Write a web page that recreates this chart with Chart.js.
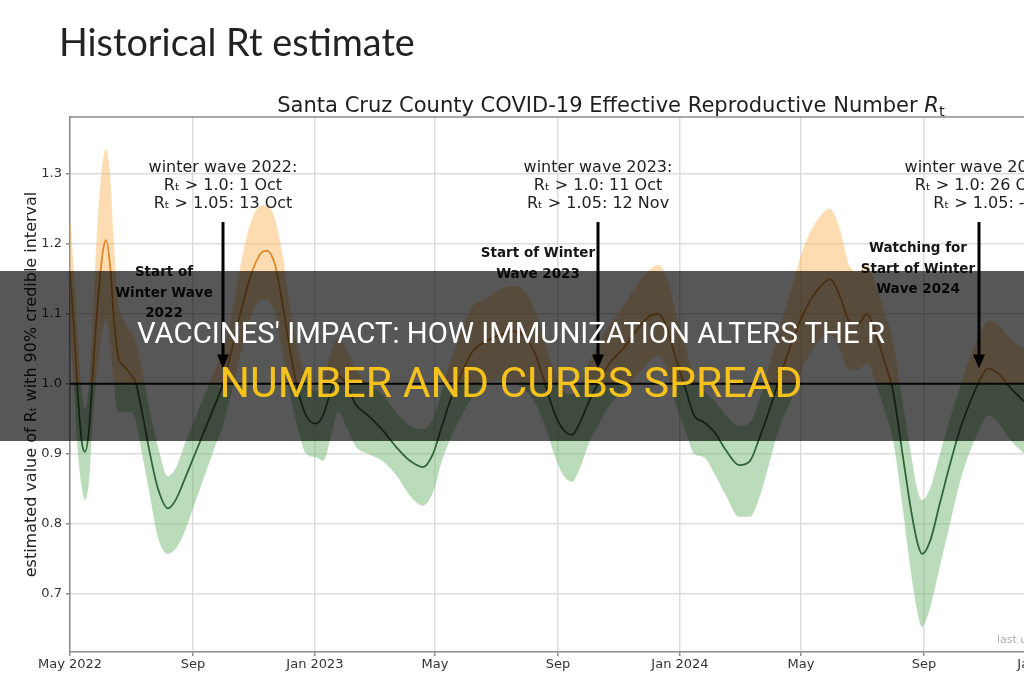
<!DOCTYPE html>
<html>
<head>
<meta charset="utf-8">
<script src="https://cdn.jsdelivr.net/npm/chart.js@4/dist/chart.umd.min.js"></script>
<style>
html,body{margin:0;padding:0;width:1024px;height:680px;overflow:hidden;background:#fff;}
#wrap{position:relative;width:1024px;height:680px;overflow:hidden;background:#fff;}
#c{position:absolute;left:0;top:0;}
.txt{position:absolute;left:0;top:0;white-space:nowrap;line-height:1;}
#heading{font-family:Lato,"Open Sans",sans-serif;font-size:35px;color:#222;}
#ctitle{font-family:"DejaVu Sans",sans-serif;font-size:21px;color:#1e1e1e;}
#ctitle sub{font-size:0.7em;vertical-align:baseline;position:relative;top:0.3em;line-height:0;}
#lastupd{font-family:"DejaVu Sans",sans-serif;font-size:11px;color:#b0b0b0;}
#banner{position:absolute;left:0;top:271px;width:1024px;height:170px;background:rgba(0,0,0,0.66);}
#b1{font-family:Roboto,"Liberation Sans",sans-serif;font-size:27px;color:#ffffff;z-index:3;}
#b2{font-family:Roboto,"Liberation Sans",sans-serif;font-size:40px;color:#f5c21b;z-index:3;}
</style>
</head>
<body>
<div id="wrap">
  <canvas id="c" width="1110" height="680"></canvas>
  <div id="heading" class="txt">Historical Rt estimate</div>
  <div id="ctitle" class="txt">Santa Cruz County COVID-19 Effective Reproductive Number <i>R</i><sub>t</sub></div>
  <div id="lastupd" class="txt">last updated</div>
  <div id="banner"></div>
  <div id="b1" class="txt">VACCINES' IMPACT: HOW IMMUNIZATION ALTERS THE R</div>
  <div id="b2" class="txt">NUMBER AND CURBS SPREAD</div>
</div>
<script>
// ---------------- data ----------------
const xTickDays   = [0, 123, 245, 365, 488, 610, 731, 854, 976];   // days since 1 May 2022
const xTickLabels = ['May 2022', 'Sep', 'Jan 2023', 'May', 'Sep', 'Jan 2024', 'May', 'Sep', 'Jan 2025'];
const yTicks      = [0.7, 0.8, 0.9, 1.0, 1.1, 1.2, 1.3];

const days = [0,4,8,12,15,19,23,28,33,36,40,44,48,54,60,66,72,80,88,98,106,115,125,135,145,153,162,172,182,192,197,205,213,221,228,236,246,253,262,268,276,286,298,312,326,340,353,363,372,380,390,402,415,430,445,456,466,475,484,493,502,510,519,528,540,553,566,578,588,597,606,615,624,634,645,656,669,680,690,700,710,722,735,748,760,770,779,788,797,806,815,823,832,841,848,852,860,870,880,890,899,908,918,928,940,954,970,990,1010,1040];
const rtMedian = [1.16,1.08,0.98,0.915,0.903,0.935,1.02,1.12,1.19,1.205,1.17,1.09,1.04,1.025,1.015,1.0,0.96,0.9,0.85,0.822,0.835,0.865,0.9,0.935,0.97,1.0,1.05,1.11,1.16,1.188,1.19,1.17,1.11,1.04,0.99,0.955,0.943,0.955,0.995,1.012,1.0,0.97,0.955,0.935,0.91,0.89,0.881,0.9,0.94,0.975,1.01,1.045,1.06,1.07,1.075,1.065,1.04,1.0,0.96,0.935,0.927,0.945,0.975,1.0,1.03,1.05,1.075,1.095,1.1,1.08,1.035,0.995,0.955,0.945,0.93,0.905,0.884,0.89,0.925,0.965,1.01,1.06,1.105,1.135,1.149,1.125,1.09,1.085,1.1,1.07,1.03,0.99,0.905,0.82,0.77,0.757,0.775,0.83,0.885,0.935,0.97,1.0,1.022,1.015,0.995,0.975,0.955,0.94,0.935,0.93];
const rtLower  = [1.08,0.99,0.9,0.85,0.834,0.86,0.95,1.03,1.08,1.09,1.06,1.0,0.96,0.96,0.96,0.945,0.9,0.84,0.78,0.757,0.765,0.79,0.83,0.87,0.91,0.94,0.99,1.05,1.1,1.12,1.12,1.1,1.04,0.98,0.935,0.9,0.895,0.89,0.93,0.96,0.94,0.91,0.9,0.89,0.87,0.84,0.826,0.845,0.89,0.92,0.95,0.98,1.0,1.005,1.0,0.99,0.97,0.94,0.9,0.87,0.86,0.88,0.915,0.94,0.97,0.99,1.01,1.03,1.04,1.02,0.97,0.935,0.9,0.895,0.87,0.84,0.81,0.81,0.84,0.89,0.94,0.98,1.03,1.06,1.07,1.05,1.02,1.02,1.03,1.0,0.96,0.92,0.83,0.73,0.67,0.653,0.68,0.74,0.8,0.86,0.9,0.93,0.955,0.945,0.92,0.9,0.87,0.84,0.83,0.82];
const rtUpper  = [1.24,1.16,1.06,0.985,0.965,1.0,1.1,1.24,1.32,1.335,1.3,1.2,1.12,1.09,1.075,1.06,1.02,0.96,0.91,0.868,0.88,0.915,0.95,0.985,1.02,1.05,1.1,1.18,1.235,1.255,1.255,1.235,1.18,1.1,1.05,1.01,0.99,1.005,1.05,1.065,1.05,1.02,1.0,0.985,0.96,0.94,0.935,0.95,0.99,1.03,1.07,1.11,1.12,1.135,1.14,1.13,1.1,1.06,1.02,0.99,0.985,1.0,1.03,1.055,1.085,1.11,1.14,1.16,1.17,1.15,1.1,1.055,1.01,0.99,0.975,0.955,0.94,0.945,0.98,1.03,1.08,1.14,1.2,1.235,1.25,1.22,1.17,1.16,1.17,1.14,1.1,1.06,0.98,0.9,0.845,0.834,0.85,0.9,0.95,0.995,1.035,1.065,1.09,1.085,1.065,1.05,1.04,1.04,1.04,1.04];

const threshold = 1.0;

const waveDays     = [153, 528, 909];
const waveTitles   = ['winter wave 2022:', 'winter wave 2023:', 'winter wave 2024:'];
const waveCross100 = ['1 Oct', '11 Oct', '26 Oct'];
const waveCross105 = ['13 Oct', '12 Nov', '-'];
const waveNotes    = [['Start of', 'Winter Wave', '2022'], ['Start of Winter', 'Wave 2023'], ['Watching for', 'Start of Winter', 'Wave 2024']];

// ---------------- styles ----------------
const ORANGE_LINE = '#dd8a2e';
const GREEN_LINE  = '#33653a';
const ORANGE_BAND = 'rgba(253,185,100,0.5)';
const GREEN_BAND  = 'rgba(120,185,120,0.5)';
const GRID = '#dddddd';
const SPINE = '#8c8c8c';
const noteDx = [-59, -60, -61];
const noteY  = [276, 257, 252];

// clip datasets to above / below the threshold line
const thresholdClip = {
  id: 'thresholdClip',
  beforeDatasetDraw(chart, args) {
    const ds = chart.data.datasets[args.index];
    if (!ds || !ds.side) return;
    const {ctx, chartArea: a} = chart;
    const y1 = chart.scales.y.getPixelForValue(threshold);
    ctx.save();
    ctx.beginPath();
    if (ds.side === 'above') ctx.rect(a.left - 5, a.top - 5, a.right - a.left + 10, y1 - a.top + 5);
    else ctx.rect(a.left - 5, y1, a.right - a.left + 10, a.bottom - y1 + 5);
    ctx.clip();
  },
  afterDatasetDraw(chart, args) {
    const ds = chart.data.datasets[args.index];
    if (!ds || !ds.side) return;
    chart.ctx.restore();
  }
};
if (Chart.Filler) {
  Chart.unregister(Chart.Filler);
  Chart.register(thresholdClip);
  Chart.register(Chart.Filler);
} else {
  Chart.register(thresholdClip);
}

const annotations = {
  id: 'waveNotes',
  beforeDatasetsDraw(chart) {
    const {ctx, chartArea: a} = chart;
    ctx.save();
    ctx.strokeStyle = SPINE; ctx.lineWidth = 1.5;
    ctx.beginPath(); ctx.moveTo(a.left, a.top); ctx.lineTo(a.right, a.top); ctx.stroke();
    ctx.restore();
  },
  afterDatasetsDraw(chart) {
    const {ctx, scales: {x, y}} = chart;
    ctx.save();
    waveDays.forEach((d, i) => {
      const px = x.getPixelForValue(d);
      ctx.textAlign = 'center';
      ctx.textBaseline = 'alphabetic';
      ctx.fillStyle = '#222';
      ctx.font = '16px "DejaVu Sans"';
      const lines = [waveTitles[i], 'R\u209C > 1.0: ' + waveCross100[i], 'R\u209C > 1.05: ' + waveCross105[i]];
      lines.forEach((t, j) => ctx.fillText(t, px, 172 + 18 * j));
      const yTop = y.getPixelForValue(1.231);
      const yTip = y.getPixelForValue(1.022);
      ctx.strokeStyle = '#000'; ctx.fillStyle = '#000'; ctx.lineWidth = 3;
      ctx.beginPath(); ctx.moveTo(px, yTop); ctx.lineTo(px, yTip - 10); ctx.stroke();
      ctx.beginPath(); ctx.moveTo(px - 6, yTip - 14); ctx.lineTo(px + 6, yTip - 14); ctx.lineTo(px, yTip); ctx.closePath(); ctx.fill();
      ctx.font = 'bold 13.5px "DejaVu Sans"';
      ctx.fillStyle = '#161616';
      waveNotes[i].forEach((t, j) => ctx.fillText(t, px + noteDx[i], noteY[i] + 20.5 * j));
    });
    ctx.restore();
  }
};

const pts = arr => days.map((d, i) => ({x: d, y: arr[i]}));
const common = {pointRadius: 0, pointHoverRadius: 0, cubicInterpolationMode: 'monotone'};
const xMax = 1040;

new Chart(document.getElementById('c'), {
  type: 'line',
  data: {
    datasets: [
      {label: 'R = 1', data: [{x: 0, y: threshold}, {x: xMax, y: threshold}], borderColor: '#111', borderWidth: 2, pointRadius: 0, fill: false},
      Object.assign({label: 'Rt median (>1)', data: pts(rtMedian), side: 'above', borderColor: ORANGE_LINE, borderWidth: 1.8, fill: false}, common),
      Object.assign({label: 'Rt median (<1)', data: pts(rtMedian), side: 'below', borderColor: GREEN_LINE, borderWidth: 1.8, fill: false}, common),
      Object.assign({label: 'upper (>1)', data: pts(rtUpper), side: 'above', borderWidth: 0, borderColor: 'rgba(0,0,0,0)', backgroundColor: ORANGE_BAND, fill: '+1'}, common),
      Object.assign({label: 'lower (>1)', data: pts(rtLower), side: 'above', borderWidth: 0, borderColor: 'rgba(0,0,0,0)', fill: false}, common),
      Object.assign({label: 'upper (<1)', data: pts(rtUpper), side: 'below', borderWidth: 0, borderColor: 'rgba(0,0,0,0)', backgroundColor: GREEN_BAND, fill: '+1'}, common),
      Object.assign({label: 'lower (<1)', data: pts(rtLower), side: 'below', borderWidth: 0, borderColor: 'rgba(0,0,0,0)', fill: false}, common)
    ]
  },
  options: {
    responsive: false,
    animation: false,
    devicePixelRatio: 1,
    layout: {padding: {top: 117, left: 0, right: 0, bottom: 0}},
    plugins: {legend: {display: false}, tooltip: {enabled: false}, title: {display: false}},
    scales: {
      x: {
        type: 'linear', min: 0, max: xMax,
        afterBuildTicks: s => { s.ticks = xTickDays.map(v => ({value: v})); },
        afterFit: s => { s.height = 28; },
        ticks: {autoSkip: false, maxRotation: 0, padding: 1, color: '#333', font: {family: 'DejaVu Sans', size: 13},
                callback: (v, i) => xTickLabels[i]},
        grid: {color: GRID, lineWidth: 1.5, tickLength: 4, tickColor: SPINE, tickWidth: 1.5},
        border: {display: true, color: SPINE, width: 1.5}
      },
      y: {
        min: 0.617, max: 1.381,
        afterBuildTicks: s => { s.ticks = yTicks.map(v => ({value: v})); },
        afterFit: s => { s.width = 70; },
        ticks: {padding: 4, color: '#333', font: {family: 'DejaVu Sans', size: 13}, callback: v => Number(v).toFixed(1)},
        grid: {color: GRID, lineWidth: 1.5, tickLength: 4, tickColor: SPINE, tickWidth: 1.5},
        border: {display: true, color: SPINE, width: 1.5},
        title: {display: true, text: 'estimated value of R\u209C with 90% credible interval', color: '#222',
                font: {family: 'DejaVu Sans', size: 16}, padding: {top: 22, bottom: 0}}
      }
    }
  },
  plugins: [annotations]
});

// ---------------- HTML text placement ----------------
function placeText(id, opt) {
  const el = document.getElementById(id);
  if (opt.width) {
    const w0 = el.getBoundingClientRect().width;
    const fs = parseFloat(getComputedStyle(el).fontSize);
    el.style.fontSize = (fs * opt.width / w0) + 'px';
  }
  const m = document.createElement('span');
  m.style.cssText = 'display:inline-block;width:0;height:0;vertical-align:baseline;';
  el.appendChild(m);
  el.style.top = '0px';
  el.style.left = '0px';
  const r = el.getBoundingClientRect();
  const b = m.getBoundingClientRect().top - r.top;
  el.style.top = (opt.baseline - b) + 'px';
  el.style.left = (opt.center != null ? opt.center - r.width / 2 : opt.left) + 'px';
}
placeText('heading', {left: 59, baseline: 56, width: 356});
placeText('ctitle', {center: 611, baseline: 112, width: 668});
placeText('lastupd', {left: 997, baseline: 643});
placeText('b1', {center: 511, baseline: 343, width: 748});
placeText('b2', {center: 511, baseline: 397, width: 583});
</script>
</body>
</html>
